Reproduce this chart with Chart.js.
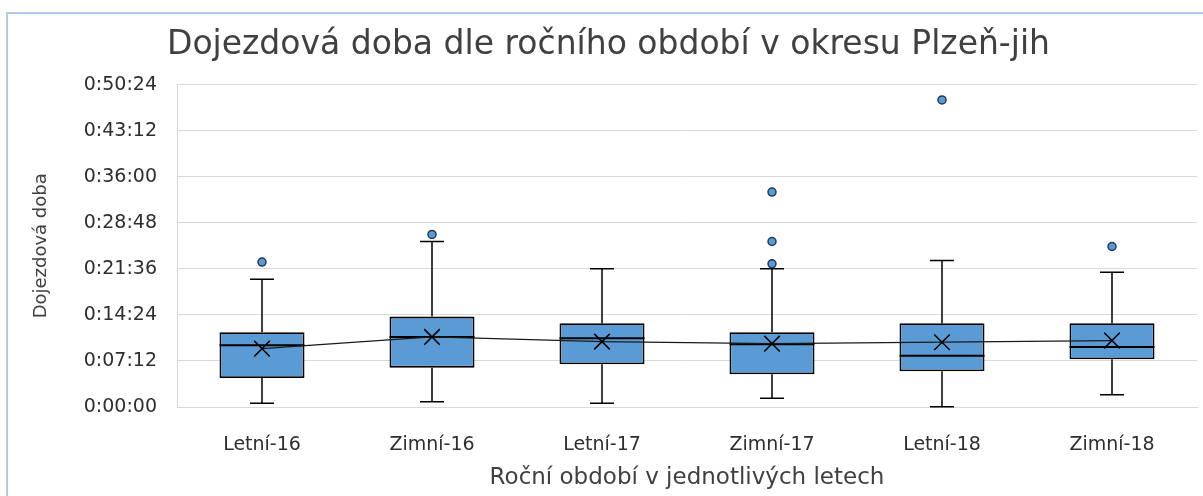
<!DOCTYPE html>
<html>
<head>
<meta charset="utf-8">
<script src="https://cdn.jsdelivr.net/npm/chart.js@4"></script>
<style>
  body { margin: 0; background: #fff; }
  #wrap { position: relative; width: 1203px; height: 496px; overflow: hidden; }
  #frame { position: absolute; left: 6px; top: 12px; width: 1300px; height: 600px;
           border-left: 2px solid #b0cbe8; border-top: 2px solid #b0cbe8; }
  #myChart { position: absolute; left: 0; top: 0; }
</style>
</head>
<body>
<div id="wrap">
  <div id="frame"></div>
  <canvas id="myChart" width="1203" height="496"></canvas>
</div>
<script>
// values in minutes
const labels = ['Letní-16', 'Zimní-16', 'Letní-17', 'Zimní-17', 'Letní-18', 'Zimní-18'];
const minVals = [0.58, 0.83, 0.58, 1.36, 0.05, 1.93];
const q1Vals = [4.54, 6.15, 6.68, 5.12, 5.59, 7.46];
const medianVals = [9.66, 10.96, 10.75, 9.81, 8.03, 9.39];
const q3Vals = [11.69, 14.13, 13.10, 11.69, 13.10, 13.10];
const maxVals = [19.98, 25.87, 21.60, 21.60, 22.90, 21.08];
const meanVals = [9.12, 10.96, 10.22, 9.90, 10.13, 10.38];
const outliers = [[22.65], [26.97], [], [22.38, 25.87, 33.60], [48.0], [25.09]];

const yMax = 50.4;   // 0:50:24
const yStep = 7.2;   // 0:07:12

function fmtTime(min) {
    let s = Math.round(min * 60);
    let h = Math.floor(s / 3600);
    let m = Math.floor((s % 3600) / 60);
    let sec = s % 60;
    return h + ':' + ('' + m).padStart(2, '0') + ':' + ('' + sec).padStart(2, '0');
}

var outlierPts = [];
outliers.forEach((arr, i) => arr.forEach(v => outlierPts.push({ x: labels[i], y: v })));

const textColor = '#404040';
const tickColor = '#2e2e2e';
const BAR_INDEX = 2;

// whiskers behind the boxes, medians on top of them
const boxParts = {
    id: 'boxParts',
    beforeDatasetsDraw(chart) {
        const ctx = chart.ctx;
        const x = chart.scales.x, y = chart.scales.y;
        ctx.save();
        ctx.strokeStyle = '#000';
        ctx.lineWidth = 1.5;
        for (let i = 0; i < labels.length; i++) {
            let px = x.getPixelForValue(i);
            let half = 12;
            ctx.beginPath();
            ctx.moveTo(px, y.getPixelForValue(q3Vals[i]));
            ctx.lineTo(px, y.getPixelForValue(maxVals[i]));
            ctx.moveTo(px - half, y.getPixelForValue(maxVals[i]));
            ctx.lineTo(px + half, y.getPixelForValue(maxVals[i]));
            ctx.moveTo(px, y.getPixelForValue(q1Vals[i]));
            ctx.lineTo(px, y.getPixelForValue(minVals[i]));
            ctx.moveTo(px - half, y.getPixelForValue(minVals[i]));
            ctx.lineTo(px + half, y.getPixelForValue(minVals[i]));
            ctx.stroke();
        }
        ctx.restore();
    },
    afterDatasetDraw(chart, args) {
        if (args.index !== BAR_INDEX) return;
        const ctx = chart.ctx;
        const y = chart.scales.y;
        const bars = chart.getDatasetMeta(BAR_INDEX).data;
        ctx.save();
        ctx.strokeStyle = '#000';
        ctx.lineWidth = 2;
        bars.forEach((bar, i) => {
            let py = y.getPixelForValue(medianVals[i]);
            ctx.beginPath();
            ctx.moveTo(bar.x - bar.width / 2, py);
            ctx.lineTo(bar.x + bar.width / 2, py);
            ctx.stroke();
        });
        ctx.restore();
    }
};

const ctx = document.getElementById('myChart');
var myChart = new Chart(ctx, {
    type: 'bar',
    data: {
        labels: labels,
        datasets: [
            {
                type: 'line',
                label: 'Průměr',
                data: meanVals,
                order: 1,
                borderColor: '#1a1a1a',
                borderWidth: 1.2,
                pointStyle: 'crossRot',
                pointRadius: 11,
                pointBorderWidth: 1.5,
                pointBorderColor: '#000',
                fill: false,
                tension: 0
            },
            {
                type: 'line',
                label: 'Odlehlé hodnoty',
                data: outlierPts,
                order: 0,
                showLine: false,
                pointStyle: 'circle',
                pointRadius: 4,
                pointBorderWidth: 1.5,
                pointBackgroundColor: '#5b9bd5',
                pointBorderColor: '#1f3a5a'
            },
            {
                type: 'bar',
                label: 'Kvartily',
                data: q1Vals.map((v, i) => [v, q3Vals[i]]),
                order: 3,
                backgroundColor: '#5b9bd5',
                borderColor: '#000',
                borderWidth: 1.8,
                borderSkipped: false,
                barPercentage: 0.5,
                categoryPercentage: 1
            }
        ]
    },
    options: {
        responsive: false,
        animation: false,
        layout: { autoPadding: false, padding: { left: 20, right: 6, top: 0, bottom: 0 } },
        plugins: {
            legend: { display: false },
            tooltip: { enabled: false },
            title: {
                display: true,
                text: 'Dojezdová doba dle ročního období v okresu Plzeň-jih',
                color: textColor,
                font: { family: 'DejaVu Sans', size: 33, weight: 'normal' },
                padding: { top: 26, bottom: 19 }
            }
        },
        scales: {
            x: {
                grid: { display: false },
                border: { display: true, color: '#d9d9d9' },
                ticks: {
                    color: tickColor,
                    padding: 19,
                    font: { family: 'DejaVu Sans', size: 19 }
                },
                title: {
                    display: true,
                    text: 'Roční období v jednotlivých letech',
                    color: textColor,
                    font: { family: 'DejaVu Sans', size: 23 },
                    padding: { top: 0, bottom: 4 }
                },
                afterFit: function (scale) {
                    scale.height = 89;
                    scale.paddingLeft = 0;
                    scale.paddingRight = 0;
                }
            },
            y: {
                min: 0,
                max: yMax,
                grid: { color: '#d9d9d9', drawTicks: false },
                border: { display: true, color: '#d9d9d9' },
                ticks: {
                    stepSize: yStep,
                    color: tickColor,
                    padding: 20,
                    font: { family: 'DejaVu Sans', size: 19 },
                    callback: function (v) { return fmtTime(v); }
                },
                title: {
                    display: true,
                    text: 'Dojezdová doba',
                    color: textColor,
                    font: { family: 'DejaVu Sans', size: 18 },
                    padding: { top: 11, bottom: 0 }
                },
                afterFit: function (scale) { scale.width = 157; }
            }
        }
    },
    plugins: [boxParts]
});
</script>
</body>
</html>
